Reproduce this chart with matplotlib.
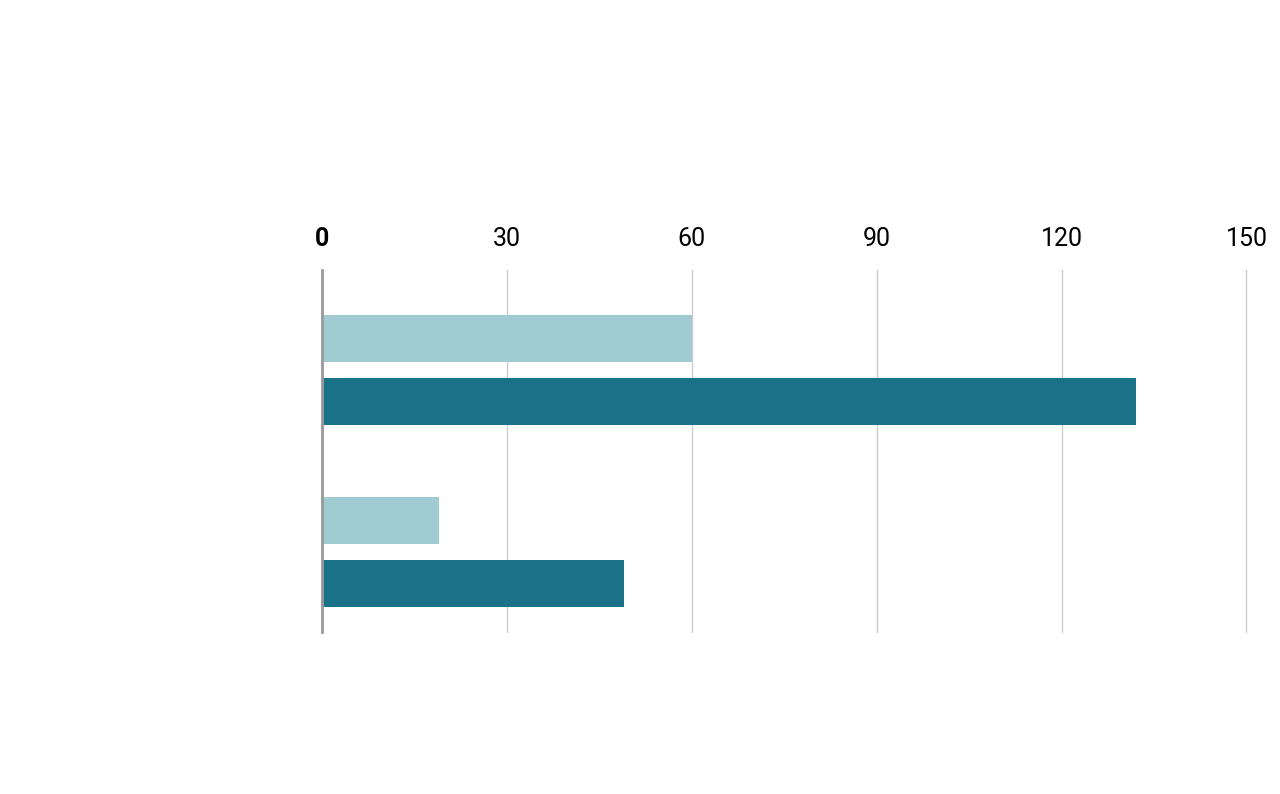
import numpy as np
import matplotlib
matplotlib.use("Agg")
import matplotlib.pyplot as plt

# %% data
groups = ["A", "B"]  # category names are not shown in the chart
series_light = [60, 19]
series_dark = [132, 49]
x_ticks = [0, 30, 60, 90, 120, 150]

# %% plot
plt.rcParams["font.family"] = ["Roboto", "DejaVu Sans"]
fig = plt.figure(figsize=(12.8, 7.94), dpi=100)
ax = fig.add_axes([0.2516, 0.204, 0.7222, 0.456])

y = np.arange(len(groups))
ax.barh(y - 0.173, series_light, height=0.258, color="#a1cbd2", zorder=2)
ax.barh(y + 0.173, series_dark, height=0.258, color="#197287", zorder=2)

ax.set_xlim(0, 150)
ax.set_ylim(1.44, -0.549)
ax.set_xticks(x_ticks)
ax.set_xticklabels([str(t) for t in x_ticks])
ax.xaxis.tick_top()
ax.tick_params(axis="x", length=0, pad=14, labelsize=18, labelcolor="black")
ax.get_xticklabels()[0].set_fontweight("bold")
ax.set_yticks([])
for s in ax.spines.values():
    s.set_visible(False)

for t in x_ticks[1:]:
    ax.axvline(t, color="#cccccc", linewidth=1, zorder=1, clip_on=False)
ax.axvline(0, color="#999999", linewidth=2, zorder=3, clip_on=False)

plt.savefig("out.png", dpi=100)
plt.close()
